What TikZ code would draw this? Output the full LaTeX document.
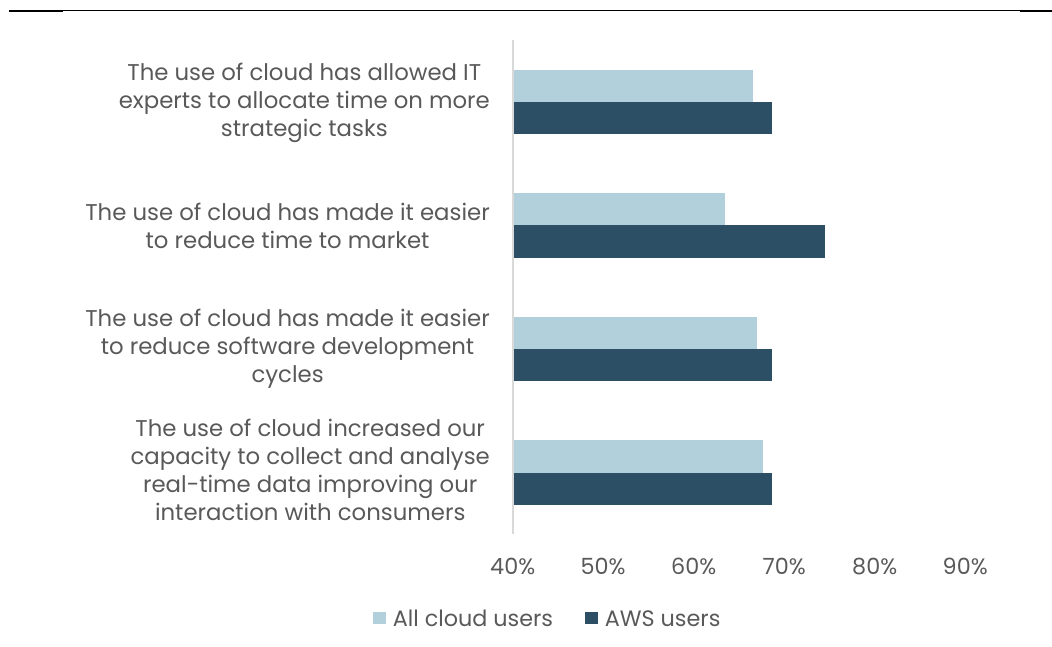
\documentclass[tikz,border=0pt]{standalone}
\usepackage{fontspec}
\setmainfont{Poppins}
\usetikzlibrary{positioning}

\definecolor{allCloud}{HTML}{B1D0DB}
\definecolor{awsUsers}{HTML}{2C4F65}
\definecolor{labelGray}{HTML}{595959}
\definecolor{axisGray}{HTML}{D9D9D9}

\begin{document}
\begin{tikzpicture}[
    x=1pt, y=-1pt,
    catLabel/.style = {
        anchor=east,
        align=center,
        inner sep=0pt,
        text=labelGray,
        font=\fontsize{22.8}{28}\selectfont,
    },
    tickLabel/.style = {
        inner sep=0pt,
        text=labelGray,
        font=\fontsize{22.3}{24}\selectfont,
    },
    legendKey/.style = {
        inner sep=0pt,
        minimum size=12.7pt,
    },
    legendText/.style = {
        tickLabel,
        text height=16pt,
        text depth=0pt,
        anchor=west,
    },
    allBar/.style = {
        fill=allCloud,
    },
    awsBar/.style = {
        fill=awsUsers,
    },
    rule/.style = {
        draw=black,
    },
    node distance=6.5pt,
]
\useasboundingbox (0,0) rectangle (1052,647);

% top rule
\draw[rule, line width=1pt] (9,10.5) -- (1052,10.5);
\draw[rule, line width=2pt] (9,11.2) -- (63,11.2);
\draw[rule, line width=2pt] (1020,11.2) -- (1052,11.2);

% bars: value of all cloud users, value of AWS users
\newcommand{\pct}[1]{512.7+(#1-40)*9.05}
\foreach \all/\aws [count=\i from 0] in {66.5/68.7, 63.5/74.5, 67.0/68.7, 67.7/68.7} {
    \pgfmathsetmacro{\c}{101.9+123.6*\i}
    \fill[allBar] (512.7,\c-32.3) rectangle ({\pct{\all}},\c);
    \fill[awsBar] (512.7,\c) rectangle ({\pct{\aws}},\c+32.3);
}

\draw[axisGray, line width=2pt] (512.7,40) coordinate (axisTop)
    -- (512.7,534.3) coordinate (axisBottom);

% category labels
\node[catLabel] (strategic) at (490,103)
    {The use of cloud has allowed IT\\experts to allocate time on more\\strategic tasks};
\node[catLabel] (market) at (490,225.5)
    {The use of cloud has made it easier\\to reduce time to market};
\node[catLabel] (cycles) at (490,349.1)
    {The use of cloud has made it easier\\to reduce software development\\cycles};
\node[catLabel] (realtime) at (490,470)
    {The use of cloud increased our\\capacity to collect and analyse\\real-time data improving our\\interaction with consumers};

% value axis
\foreach \p [count=\i from 0] in {40,50,...,90}
    \node[tickLabel] (tick\p) at (512.7+90.5*\i,566.7) {\p\%};

% legend
\node[legendKey, fill=allCloud] (keyAll) at (379.6,618) {};
\node[legendText, right=of keyAll] (textAll) {All cloud users};
\node[legendKey, fill=awsUsers] (keyAws) at (591.6,618) {};
\node[legendText, right=of keyAws] (textAws) {AWS users};

\end{tikzpicture}
\end{document}
